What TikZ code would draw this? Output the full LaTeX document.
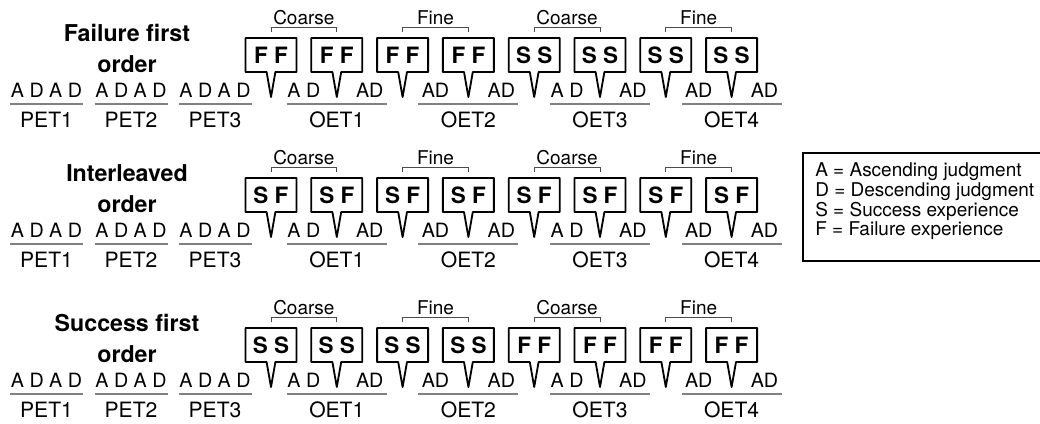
\documentclass[tikz,border=0pt]{standalone}
\usepackage{fontspec}
\setmainfont{TeX Gyre Heros}
\usetikzlibrary{shapes.callouts}

\begin{document}
\begin{tikzpicture}[
    x=0.025cm, y=-0.025cm,
    ordtitle/.style={font=\fontsize{16.5}{21.8}\selectfont\bfseries, align=center, inner sep=0pt},
    fbk/.style={rectangle callout, draw, line width=1.3pt, line join=round,
                minimum width=1.275cm, minimum height=0.85cm, inner sep=0pt,
                callout pointer width=0.22cm, font=\fontsize{16}{18}\selectfont\bfseries},
    jdg/.style={font=\fontsize{14}{16}\selectfont, anchor=base, inner sep=0pt},
    tlab/.style={font=\fontsize{15}{18}\selectfont, anchor=base, inner sep=0pt},
    grp/.style={font=\fontsize{13.5}{16}\selectfont, anchor=base, inner sep=0pt},
    uline/.style={draw=gray, line width=1.2pt},
    brk/.style={draw=black!70, line width=0.6pt},
    keybox/.style={anchor=north west, inner sep=0pt,
                   minimum width=6.45cm, minimum height=2.675cm},
    keyline/.style={draw, line width=1.3pt},
    keytxt/.style={font=\fontsize{13.5}{16}\selectfont, anchor=base west, inner sep=0pt},
]
\useasboundingbox (0,0) rectangle (1040,423);
\clip (0,0) rectangle (1040,423);

% three orders, one row each
\foreach \r/\dy/\ttl/\fa/\fb in {1/0/{Failure first\\order}/{F F}/{S S},
                                 2/140/{Interleaved\\order}/{S F}/{S F},
                                 3/290/{Success first\\order}/{S S}/{F F}} {
  \node[ordtitle] (ttl\r) at (127,{48.4+\dy}) {\ttl};
  % practice trials
  \foreach \p/\px in {1/46.5,2/131,3/215} {
    \node[jdg] (pj\r\p) at (\px,{97+\dy}) {A D A D};
    \node[tlab] (pt\r\p) at (\px,{127+\dy}) {PET\p};
    \draw[uline] ({\px-36.5},{104+\dy}) -- ({\px+36.5},{104+\dy});
  }
  % feedback boxes
  \foreach \i in {0,...,7} {
    \pgfmathsetmacro\cx{271+65.8*\i}
    \coordinate (tp\r\i) at (\cx,{97+\dy});
    \node[fbk, callout absolute pointer={(tp\r\i)}] (fb\r\i) at (\cx,{55+\dy})
      {\ifnum\i<4 \fa\else\fb\fi};
  }
  % outcome trials
  \foreach \k/\kind/\ja in {0/Coarse/{A D},1/Fine/AD,2/Coarse/{A D},3/Fine/AD} {
    \pgfmathsetmacro\xa{271+65.8*2*\k}
    \pgfmathsetmacro\xb{\xa+65.8}
    \pgfmathsetmacro\xc{\xb+65.8}
    \pgfmathtruncatemacro\n{\k+1}
    \draw[brk] (\xa,{32+\dy}) -- (\xa,{27.5+\dy}) -- (\xb,{27.5+\dy}) -- (\xb,{32+\dy});
    \node[grp] (gp\r\k) at ({(\xa+\xb)/2},{24+\dy}) {\kind};
    \node[jdg] (oa\r\k) at ({(\xa+\xb)/2},{97+\dy}) {\ja};
    \node[jdg] (ob\r\k) at ({(\xb+\xc)/2},{97+\dy}) {AD};
    \draw[uline] ({\xb-50},{104+\dy}) -- ({\xb+50},{104+\dy});
    \node[tlab] (ot\r\k) at (\xb,{127+\dy}) {OET\n};
  }
}

% legend, open on the right (runs off the page)
\node[keybox] (key) at (803,153) {};
\draw[keyline] (key.north east) -- (key.north west) -- (key.south west) -- (key.south east);
\foreach \n/\t in {0/{A = Ascending judgment},1/{D = Descending judgment},
                   2/{S = Success experience},3/{F = Failure experience}}
  \node[keytxt] (key\n) at (815,{176.7+19.7*\n}) {\t};
\end{tikzpicture}
\end{document}
